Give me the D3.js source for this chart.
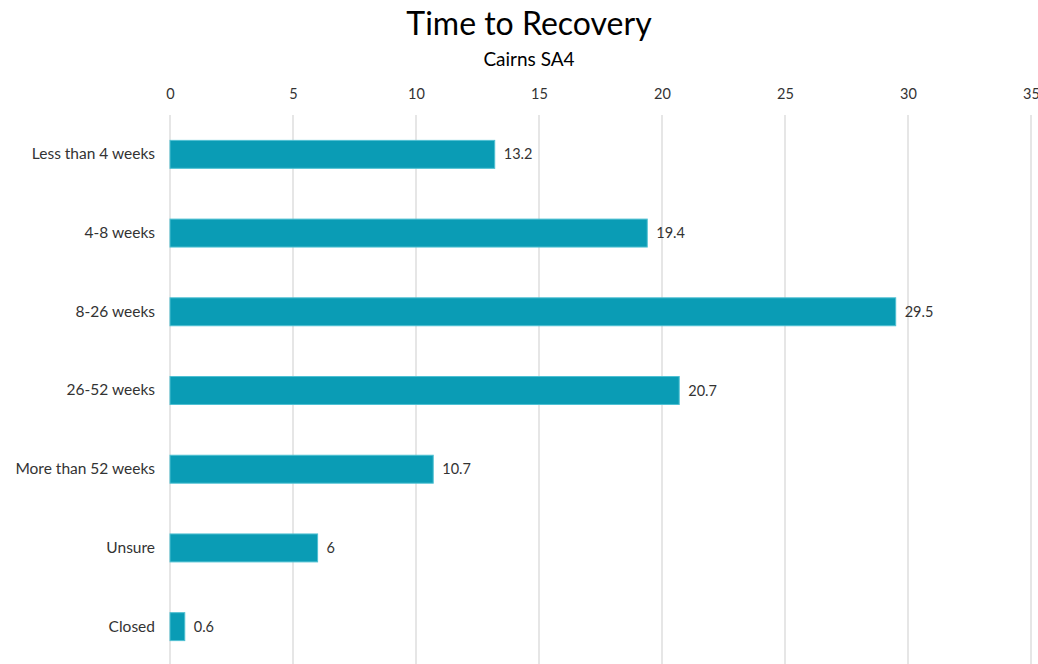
<!DOCTYPE html>
<html>
<head>
<meta charset="utf-8">
<script src="https://cdn.jsdelivr.net/npm/d3@7"></script>
<style>
  body { margin: 0; background: #fff; }
  svg text { font-family: Lato, "Open Sans", sans-serif; fill: #333; }
</style>
</head>
<body>
<div id="chart"></div>
<script>
const categories = ['Less than 4 weeks', '4-8 weeks', '8-26 weeks', '26-52 weeks', 'More than 52 weeks', 'Unsure', 'Closed']
const values = [13.2, 19.4, 29.5, 20.7, 10.7, 6, 0.6]
const xTicks = [0, 5, 10, 15, 20, 25, 30, 35]

const w = 1038
const h = 664
const padLeft = 170
const padRight = 1031
const padTop = 115
const padBottom = 666

const svg = d3.select('#chart')
    .append('svg')
    .attr('width', w)
    .attr('height', h)

// scales
const xScale = d3.scaleLinear()
    .domain([0, 35])
    .range([padLeft, padRight])

const yScale = d3.scaleBand()
    .domain(categories)
    .range([padTop, padBottom])
    .paddingInner(0.645)
    .paddingOuter(0.3225)

// gridlines
svg.append('g')
    .selectAll('line')
    .data(xTicks)
    .enter()
    .append('line')
    .attr('x1', d => xScale(d))
    .attr('x2', d => xScale(d))
    .attr('y1', padTop)
    .attr('y2', h)
    .attr('stroke', '#d9d9d9')
    .attr('stroke-width', 1.3)

// top axis labels
const xAxis = d3.axisTop(xScale).tickValues(xTicks).tickSize(0).tickPadding(0)
const gx = svg.append('g')
    .attr('transform', 'translate(0,' + 99 + ')')
    .call(xAxis)
gx.select('.domain').remove()
gx.selectAll('text')
    .style('font-family', 'Lato, "Open Sans", sans-serif')
    .style('font-size', '14.5px')
    .attr('fill', '#333')

// category labels
const yAxis = d3.axisLeft(yScale).tickSize(0).tickPadding(15)
const gy = svg.append('g')
    .attr('transform', 'translate(' + padLeft + ',0)')
    .call(yAxis)
gy.select('.domain').remove()
gy.selectAll('text')
    .style('font-family', 'Lato, "Open Sans", sans-serif')
    .style('font-size', '15.5px')
    .attr('fill', '#333')

// bars
svg.selectAll('rect.bar')
    .data(values)
    .enter()
    .append('rect')
    .attr('class', 'bar')
    .attr('x', xScale(0))
    .attr('y', (d, i) => yScale(categories[i]))
    .attr('width', d => xScale(d) - xScale(0))
    .attr('height', yScale.bandwidth())
    .attr('fill', '#0a9cb5')
    .attr('stroke', '#4fc0d2')
    .attr('stroke-width', 1)

// value labels
svg.selectAll('text.value')
    .data(values)
    .enter()
    .append('text')
    .attr('class', 'value')
    .attr('x', d => xScale(d) + 9)
    .attr('y', (d, i) => yScale(categories[i]) + yScale.bandwidth() / 2)
    .attr('dy', '0.35em')
    .style('font-size', '14.5px')
    .text(d => d)

// titles
svg.append('text')
    .attr('x', 529)
    .attr('y', 35)
    .attr('text-anchor', 'middle')
    .style('font-size', '32px')
    .style('fill', '#000')
    .text('Time to Recovery')

svg.append('text')
    .attr('x', 529)
    .attr('y', 66)
    .attr('text-anchor', 'middle')
    .style('font-size', '19px')
    .style('fill', '#000')
    .text('Cairns SA4')
</script>
</body>
</html>
